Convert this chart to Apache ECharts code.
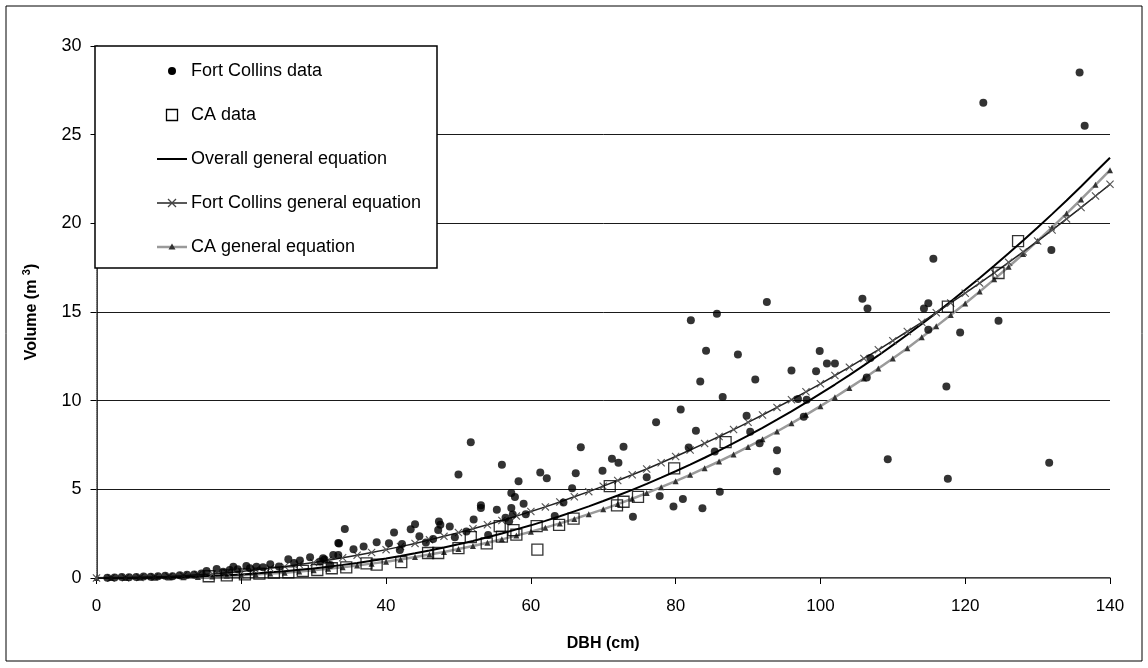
<!DOCTYPE html>
<html>
<head>
<meta charset="utf-8">
<script src="https://cdn.jsdelivr.net/npm/echarts@6/dist/echarts.min.js"></script>
<style>
  html, body { margin: 0; padding: 0; background: #fff; }
  #chart { width: 1148px; height: 668px; }
</style>
</head>
<body>
<div id="chart"></div>
<script>
// Measured trees: Fort Collins (DBH in cm, stem volume in m^3)
const fcDbh = [1.5, 2.5, 3.5, 4.5, 5.5, 6.5, 7.5, 8.5, 9.5, 10.5, 11.5, 12.5, 13.5, 14.5,
  15.2, 16.6, 17.5, 18.4, 18.9, 19.5, 20.7, 21.2, 22.1, 23.0, 24.0, 25.2, 26.5, 27.3, 28.1, 29.5,
  30.9, 31.3, 31.5, 32.3, 32.7, 33.4, 33.4, 33.5, 34.3, 35.5, 36.9, 38.7, 40.4, 41.1, 41.9, 42.2,
  43.4, 44.0, 44.6, 45.5, 46.5, 47.2, 47.3, 47.5, 48.8, 49.5, 50.0, 51.1, 51.7, 52.1, 53.1, 53.1,
  54.1, 55.3, 56.0, 56.5, 57.0, 57.3, 57.3, 57.5, 57.8, 58.3, 59.0, 59.3, 61.3, 62.2, 63.3, 64.5,
  65.7, 66.2, 66.9, 69.9, 71.2, 72.1, 72.8, 74.1, 76.0, 77.3, 77.8, 79.7, 80.7, 81.0, 81.8, 82.1,
  82.8, 83.4, 83.7, 84.2, 85.4, 85.7, 86.1, 86.5, 88.6, 89.8, 90.3, 91.0, 91.6, 92.6, 94.0, 94.0,
  96.0, 96.9, 97.7, 98.1, 99.4, 99.9, 100.9, 102.0, 105.8, 106.4, 106.5, 106.9, 109.3, 114.3, 114.9,
  114.9, 115.6, 117.4, 117.6, 119.3, 122.5, 124.6, 131.6, 131.9, 135.8, 136.5];
const fcVol = [0.02, 0.03, 0.05, 0.04, 0.06, 0.08, 0.07, 0.10, 0.12, 0.10, 0.15, 0.18, 0.20, 0.25,
  0.40, 0.51, 0.35, 0.45, 0.64, 0.50, 0.68, 0.55, 0.64, 0.60, 0.78, 0.65, 1.06, 0.85, 0.98, 1.17,
  0.93, 1.11, 1.05, 0.74, 1.30, 1.30, 1.97, 1.95, 2.77, 1.62, 1.77, 2.02, 1.96, 2.56, 1.58, 1.92,
  2.75, 3.03, 2.35, 2.00, 2.20, 2.70, 3.18, 3.00, 2.90, 2.30, 5.83, 2.62, 7.65, 3.30, 4.10, 3.95,
  2.43, 3.85, 6.38, 3.40, 3.20, 3.95, 4.80, 3.58, 4.57, 5.45, 4.19, 3.60, 5.95, 5.63, 3.50, 4.26,
  5.06, 5.90, 7.37, 6.05, 6.72, 6.50, 7.40, 3.45, 5.68, 8.78, 4.63, 4.03, 9.50, 4.45, 7.36, 14.53,
  8.30, 11.08, 3.93, 12.82, 7.13, 14.90, 4.86, 10.20, 12.60, 9.15, 8.25, 11.20, 7.60, 15.57, 7.20, 6.02,
  11.70, 10.10, 9.10, 10.05, 11.66, 12.80, 12.10, 12.10, 15.75, 11.30, 15.20, 12.40, 6.70, 15.20, 15.50,
  14.00, 18.00, 10.80, 5.60, 13.85, 26.80, 14.50, 6.50, 18.50, 28.50, 25.50];

// Measured trees: CA
const caDbh = [15.5, 18.0, 20.5, 22.5, 24.5, 26.5, 28.5, 30.5, 32.5, 34.5, 37.3, 38.7, 42.1, 45.8,
  47.2, 50.0, 51.7, 53.9, 55.7, 56.0, 57.6, 58.0, 60.8, 60.9, 63.9, 65.9, 70.9, 71.9, 72.8, 74.8,
  79.8, 86.9, 117.6, 124.6, 127.3];
const caVol = [0.10, 0.15, 0.20, 0.25, 0.30, 0.32, 0.40, 0.45, 0.55, 0.60, 0.83, 0.75, 0.90, 1.41,
  1.41, 1.69, 2.30, 1.95, 2.92, 2.33, 2.70, 2.45, 2.92, 1.60, 3.00, 3.35, 5.18, 4.10, 4.30, 4.58,
  6.18, 7.66, 15.30, 17.20, 19.00];

// Fitted volume equations, evaluated along DBH
const eqDbh = [0, 2, 4, 6, 8, 10, 12, 14, 16, 18, 20, 22, 24, 26, 28, 30, 32, 34, 36, 38, 40,
  42, 44, 46, 48, 50, 52, 54, 56, 58, 60, 62, 64, 66, 68, 70, 72, 74, 76, 78, 80,
  82, 84, 86, 88, 90, 92, 94, 96, 98, 100, 102, 104, 106, 108, 110, 112, 114, 116, 118, 120,
  122, 124, 126, 128, 130, 132, 134, 136, 138, 140];
const overallEq = [0, 0.00, 0.00, 0.01, 0.02, 0.04, 0.06, 0.08, 0.12, 0.16, 0.20, 0.26, 0.32, 0.38, 0.46, 0.54, 0.64, 0.74, 0.85, 0.97, 1.10,
  1.24, 1.39, 1.55, 1.72, 1.90, 2.09, 2.30, 2.51, 2.74, 2.97, 3.22, 3.48, 3.76, 4.04, 4.34, 4.65, 4.97, 5.31, 5.66, 6.02,
  6.39, 6.78, 7.18, 7.60, 8.03, 8.47, 8.93, 9.40, 9.89, 10.40, 10.91, 11.44, 11.99, 12.55, 13.13, 13.72, 14.33, 14.95, 15.59, 16.25,
  16.92, 17.61, 18.31, 19.03, 19.77, 20.52, 21.29, 22.08, 22.89, 23.70];
const fortCollinsEq = [0, 0.00, 0.01, 0.03, 0.05, 0.09, 0.13, 0.18, 0.23, 0.30, 0.37, 0.46, 0.55, 0.65, 0.76, 0.87, 1.00, 1.14, 1.28, 1.44, 1.60,
  1.77, 1.95, 2.15, 2.35, 2.56, 2.78, 3.00, 3.24, 3.49, 3.75, 4.01, 4.29, 4.58, 4.87, 5.18, 5.50, 5.82, 6.15, 6.50, 6.85,
  7.22, 7.59, 7.98, 8.37, 8.78, 9.19, 9.62, 10.05, 10.50, 10.95, 11.42, 11.89, 12.38, 12.87, 13.38, 13.90, 14.42, 14.96, 15.51, 16.06,
  16.63, 17.21, 17.80, 18.39, 19.00, 19.62, 20.25, 20.89, 21.54, 22.20];
const caEq = [0, 0.00, 0.00, 0.01, 0.02, 0.03, 0.04, 0.06, 0.09, 0.12, 0.16, 0.20, 0.25, 0.30, 0.37, 0.44, 0.52, 0.61, 0.70, 0.81, 0.92,
  1.04, 1.18, 1.32, 1.47, 1.63, 1.80, 1.99, 2.18, 2.39, 2.61, 2.84, 3.08, 3.33, 3.60, 3.87, 4.17, 4.47, 4.79, 5.12, 5.46,
  5.82, 6.19, 6.57, 6.97, 7.39, 7.82, 8.26, 8.72, 9.20, 9.69, 10.19, 10.72, 11.25, 11.81, 12.38, 12.96, 13.57, 14.19, 14.83, 15.48,
  16.15, 16.84, 17.55, 18.27, 19.01, 19.77, 20.55, 21.35, 22.17, 23.00];

// Axis ticks
const xTicks = [0, 20, 40, 60, 80, 100, 120, 140];
const yTicks = [0, 5, 10, 15, 20, 25, 30];

const legendNames = ['Fort Collins data', 'CA data', 'Overall general equation',
  'Fort Collins general equation', 'CA general equation'];

const pairs = (xs, ys) => xs.map((x, i) => [x, ys[i]]);

const FONT = '"Liberation Sans", Arial, sans-serif';
const crossPath = 'path://M0,1 L1,0 L5,4 L9,0 L10,1 L6,5 L10,9 L9,10 L5,6 L1,10 L0,9 L4,5 Z';

// Legend box and its key glyphs
const LEG = { x: 95, y: 46, w: 342, h: 222, keyX: 157, keyW: 30, row0: 71, rowStep: 44, textH: 18 };
const rowY = i => LEG.row0 + i * LEG.rowStep;
const keyCx = LEG.keyX + LEG.keyW / 2;
const keyLine = (i, color, width) => ({
  type: 'line', z: 25, silent: true,
  shape: { x1: LEG.keyX, y1: rowY(i), x2: LEG.keyX + LEG.keyW, y2: rowY(i) },
  style: { stroke: color, lineWidth: width }
});
const legendGlyphs = [
  { type: 'circle', z: 25, silent: true, shape: { cx: keyCx, cy: rowY(0), r: 4 }, style: { fill: '#000' } },
  { type: 'rect', z: 25, silent: true, shape: { x: keyCx - 5.5, y: rowY(1) - 5.5, width: 11, height: 11 },
    style: { fill: 'none', stroke: '#000', lineWidth: 1.3 } },
  keyLine(2, '#000', 2),
  keyLine(3, '#222', 1.5),
  { type: 'line', z: 26, silent: true, shape: { x1: keyCx - 4, y1: rowY(3) - 4, x2: keyCx + 4, y2: rowY(3) + 4 },
    style: { stroke: '#444', lineWidth: 1.2 } },
  { type: 'line', z: 26, silent: true, shape: { x1: keyCx - 4, y1: rowY(3) + 4, x2: keyCx + 4, y2: rowY(3) - 4 },
    style: { stroke: '#444', lineWidth: 1.2 } },
  keyLine(4, '#9a9a9a', 2.5),
  { type: 'polygon', z: 26, silent: true,
    shape: { points: [[keyCx, rowY(4) - 3.5], [keyCx + 3.5, rowY(4) + 2.5], [keyCx - 3.5, rowY(4) + 2.5]] },
    style: { fill: '#333' } }
];

const chart = echarts.init(document.getElementById('chart'), null, { renderer: 'canvas' });

chart.setOption({
  backgroundColor: '#fff',
  animation: false,
  textStyle: { fontFamily: FONT },
  grid: { left: 96.5, right: 38, top: 46, bottom: 90, containLabel: false },
  xAxis: [{
    type: 'value',
    min: xTicks[0], max: xTicks[xTicks.length - 1], interval: xTicks[1] - xTicks[0],
    name: 'DBH (cm)', nameLocation: 'middle', nameGap: 58,
    nameTextStyle: { fontFamily: FONT, fontSize: 16, fontWeight: 'bold', color: '#000' },
    axisLine: { show: true, onZero: false, lineStyle: { color: '#000', width: 1.5 } },
    axisTick: { show: true, inside: false, length: 6, lineStyle: { color: '#000', width: 1 } },
    axisLabel: { fontFamily: FONT, fontSize: 17, color: '#000', margin: 20 },
    splitLine: { show: false }
  }, {
    type: 'value', position: 'top',
    min: xTicks[0], max: xTicks[xTicks.length - 1],
    axisLine: { show: true, lineStyle: { color: '#888', width: 1, type: 'dotted' } },
    axisTick: { show: false }, axisLabel: { show: false }, splitLine: { show: false }
  }],
  yAxis: [{
    type: 'value',
    min: yTicks[0], max: yTicks[yTicks.length - 1], interval: yTicks[1] - yTicks[0],
    name: 'Volume (m {sup|3})', nameLocation: 'middle', nameGap: 54, nameRotate: 90,
    nameTextStyle: {
      fontFamily: FONT, fontSize: 16, fontWeight: 'bold', color: '#000',
      rich: { sup: { fontFamily: FONT, fontSize: 11, fontWeight: 'bold', color: '#000', verticalAlign: 'top', padding: [0, 0, 10, 0] } }
    },
    axisLine: { show: true, onZero: false, lineStyle: { color: '#000', width: 1.5 } },
    axisTick: { show: true, inside: false, length: 6, lineStyle: { color: '#000', width: 1 } },
    axisLabel: { fontFamily: FONT, fontSize: 18, color: '#000', margin: 15 },
    splitLine: { show: true, showMinLine: false, showMaxLine: false, lineStyle: { color: '#1a1a1a', width: 1 } }
  }, {
    type: 'value', position: 'right',
    min: yTicks[0], max: yTicks[yTicks.length - 1],
    axisLine: { show: true, lineStyle: { color: '#888', width: 1, type: 'dotted' } },
    axisTick: { show: false }, axisLabel: { show: false }, splitLine: { show: false }
  }],
  legend: {
    orient: 'vertical', left: LEG.x, top: LEG.y,
    padding: [16, 14, 14, 60],
    itemWidth: 30, itemHeight: 14, itemGap: LEG.rowStep - LEG.textH,
    backgroundColor: 'transparent',
    itemStyle: { opacity: 0 },
    lineStyle: { opacity: 0 },
    textStyle: { fontFamily: FONT, fontSize: 18, color: '#000' },
    z: 20,
    data: legendNames
  },
  graphic: [
    { type: 'rect', z: 0, silent: true, shape: { x: 6, y: 6, width: 1136, height: 655 },
      style: { fill: 'none', stroke: '#000', lineWidth: 1 } },
    { type: 'rect', z: 15, silent: true, shape: { x: LEG.x, y: LEG.y, width: LEG.w, height: LEG.h },
      style: { fill: '#fff', stroke: '#000', lineWidth: 1.5 } }
  ].concat(legendGlyphs),
  series: [
    {
      name: legendNames[4], type: 'line', z: 2,
      data: pairs(eqDbh, caEq),
      symbol: 'triangle', symbolSize: 6, showSymbol: true,
      lineStyle: { color: '#9a9a9a', width: 2.5 },
      itemStyle: { color: '#333', borderColor: '#333', borderWidth: 0 }
    },
    {
      name: legendNames[2], type: 'line', z: 3,
      data: pairs(eqDbh, overallEq),
      symbol: 'none',
      lineStyle: { color: '#000', width: 2 },
      itemStyle: { color: '#000' }
    },
    {
      name: legendNames[3], type: 'line', z: 3,
      data: pairs(eqDbh, fortCollinsEq),
      symbol: crossPath, symbolSize: 8, showSymbol: true,
      lineStyle: { color: '#222', width: 1.5 },
      itemStyle: { color: '#555', borderWidth: 0 }
    },
    {
      name: legendNames[1], type: 'scatter', z: 4,
      data: pairs(caDbh, caVol),
      symbol: 'rect', symbolSize: 11,
      itemStyle: { color: 'rgba(255,255,255,0)', borderColor: '#000', borderWidth: 1.3 }
    },
    {
      name: legendNames[0], type: 'scatter', z: 5,
      data: pairs(fcDbh, fcVol),
      symbol: 'circle', symbolSize: 8,
      itemStyle: { color: '#000' }
    }
  ]
});
</script>
</body>
</html>
